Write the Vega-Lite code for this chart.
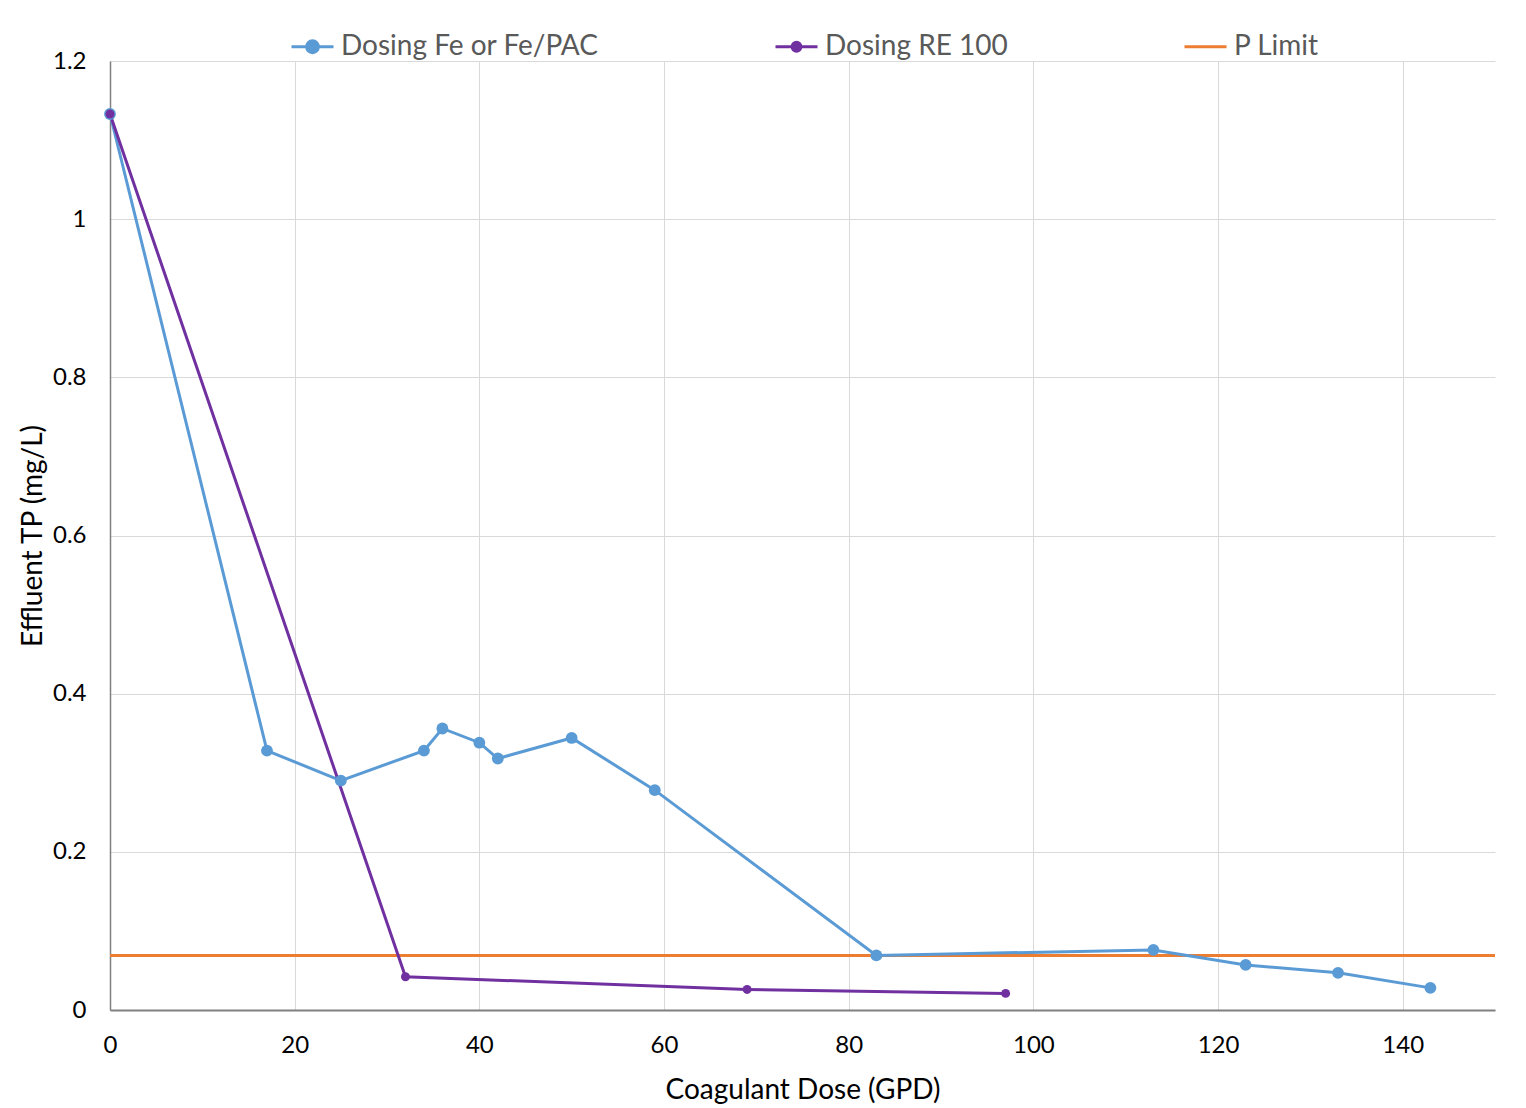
{
  "$schema": "https://vega.github.io/schema/vega-lite/v6.json",
  "width": 1385,
  "height": 949,
  "autosize": {"type": "none"},
  "padding": {"left": 110, "top": 61, "right": 31, "bottom": 98},
  "background": "white",
  "config": {"font": "Lato", "view": {"stroke": null}},
  "datasets": {
    "curves": [
      {"series": "Dosing Fe or Fe/PAC", "dose": 0, "tp": 1.133},
      {"series": "Dosing Fe or Fe/PAC", "dose": 17, "tp": 0.328},
      {"series": "Dosing Fe or Fe/PAC", "dose": 25, "tp": 0.29},
      {"series": "Dosing Fe or Fe/PAC", "dose": 34, "tp": 0.328},
      {"series": "Dosing Fe or Fe/PAC", "dose": 36, "tp": 0.356},
      {"series": "Dosing Fe or Fe/PAC", "dose": 40, "tp": 0.338},
      {"series": "Dosing Fe or Fe/PAC", "dose": 42, "tp": 0.318},
      {"series": "Dosing Fe or Fe/PAC", "dose": 50, "tp": 0.344},
      {"series": "Dosing Fe or Fe/PAC", "dose": 59, "tp": 0.278},
      {"series": "Dosing Fe or Fe/PAC", "dose": 83, "tp": 0.069},
      {"series": "Dosing Fe or Fe/PAC", "dose": 113, "tp": 0.076},
      {"series": "Dosing Fe or Fe/PAC", "dose": 123, "tp": 0.057},
      {"series": "Dosing Fe or Fe/PAC", "dose": 133, "tp": 0.047},
      {"series": "Dosing Fe or Fe/PAC", "dose": 143, "tp": 0.028},
      {"series": "Dosing RE 100", "dose": 0, "tp": 1.133},
      {"series": "Dosing RE 100", "dose": 32, "tp": 0.042},
      {"series": "Dosing RE 100", "dose": 69, "tp": 0.026},
      {"series": "Dosing RE 100", "dose": 97, "tp": 0.021}
    ],
    "limit": [
      {"series": "P Limit", "tp": 0.069}
    ]
  },
  "layer": [
    {
      "data": {"name": "limit"},
      "mark": {"type": "rule", "strokeWidth": 3},
      "encoding": {
        "y": {"field": "tp", "type": "quantitative", "scale": {"domain": [0, 1.2], "nice": false}},
        "color": {
          "field": "series", "type": "nominal",
          "scale": {"domain": ["Dosing Fe or Fe/PAC", "Dosing RE 100", "P Limit"], "range": ["#5B9BD5", "#7030A0", "#ED7D31"]}
        }
      }
    },
    {
      "data": {"name": "curves"},
      "mark": {"type": "line", "strokeWidth": 3},
      "encoding": {
        "x": {
          "field": "dose", "type": "quantitative",
          "scale": {"domain": [0, 150], "nice": false},
          "axis": {
            "title": "Coagulant Dose (GPD)",
            "values": [0, 20, 40, 60, 80, 100, 120, 140],
            "labelFlush": false,
            "grid": true, "gridColor": "#D9D9D9", "gridWidth": 1,
            "domainColor": "#808080", "domainWidth": 2,
            "ticks": false,
            "labelFontSize": 24, "labelColor": "#000000", "labelPadding": 23,
            "titleFontSize": 28, "titleColor": "#000000", "titleFontWeight": "normal", "titlePadding": 19
          }
        },
        "y": {
          "field": "tp", "type": "quantitative",
          "scale": {"domain": [0, 1.2], "nice": false},
          "axis": {
            "title": "Effluent TP (mg/L)",
            "values": [0, 0.2, 0.4, 0.6, 0.8, 1, 1.2],
            "format": "~g",
            "labelFlush": false,
            "grid": true, "gridColor": "#D9D9D9", "gridWidth": 1,
            "domainColor": "#808080", "domainWidth": 1.5,
            "ticks": false,
            "labelFontSize": 24, "labelColor": "#000000", "labelPadding": 24,
            "titleFontSize": 28, "titleColor": "#000000", "titleFontWeight": "normal", "titlePadding": 5
          }
        },
        "color": {
          "field": "series", "type": "nominal",
          "scale": {"domain": ["Dosing Fe or Fe/PAC", "Dosing RE 100", "P Limit"], "range": ["#5B9BD5", "#7030A0", "#ED7D31"]},
          "legend": {
            "title": null,
            "orient": "none",
            "direction": "horizontal",
            "legendX": 180,
            "legendY": -37,
            "labelFontSize": 28,
            "labelLimit": 0,
            "labelColor": "#595959",
            "labelOffset": 6,
            "columnPadding": 170,
            "symbolSize": 1764,
            "encode": {
              "symbols": {
                "update": {
                  "shape": {"signal": "datum.value === 'P Limit' ? 'M-1,0H1' : (datum.value === 'Dosing RE 100' ? 'M-1,0H1M0.21,0A0.21,0.21,0,1,1,-0.21,0A0.21,0.21,0,1,1,0.21,0Z' : 'M-1,0H1M0.28,0A0.28,0.28,0,1,1,-0.28,0A0.28,0.28,0,1,1,0.28,0Z')"},
                  "stroke": {"scale": "color", "field": "value"},
                  "fill": {"scale": "color", "field": "value"},
                  "strokeWidth": {"value": 3},
                  "opacity": {"value": 1}
                }
              }
            }
          }
        },
        "strokeWidth": {
          "field": "series", "type": "nominal",
          "scale": {"domain": ["Dosing Fe or Fe/PAC", "Dosing RE 100"], "range": [3, 2.5]},
          "legend": null
        }
      }
    },
    {
      "data": {"name": "curves"},
      "mark": {"type": "point", "filled": true, "opacity": 1},
      "encoding": {
        "x": {"field": "dose", "type": "quantitative"},
        "y": {"field": "tp", "type": "quantitative"},
        "color": {"field": "series", "type": "nominal"},
        "size": {
          "field": "series", "type": "nominal",
          "scale": {"domain": ["Dosing Fe or Fe/PAC", "Dosing RE 100"], "range": [140, 80]},
          "legend": null
        }
      }
    }
  ]
}
